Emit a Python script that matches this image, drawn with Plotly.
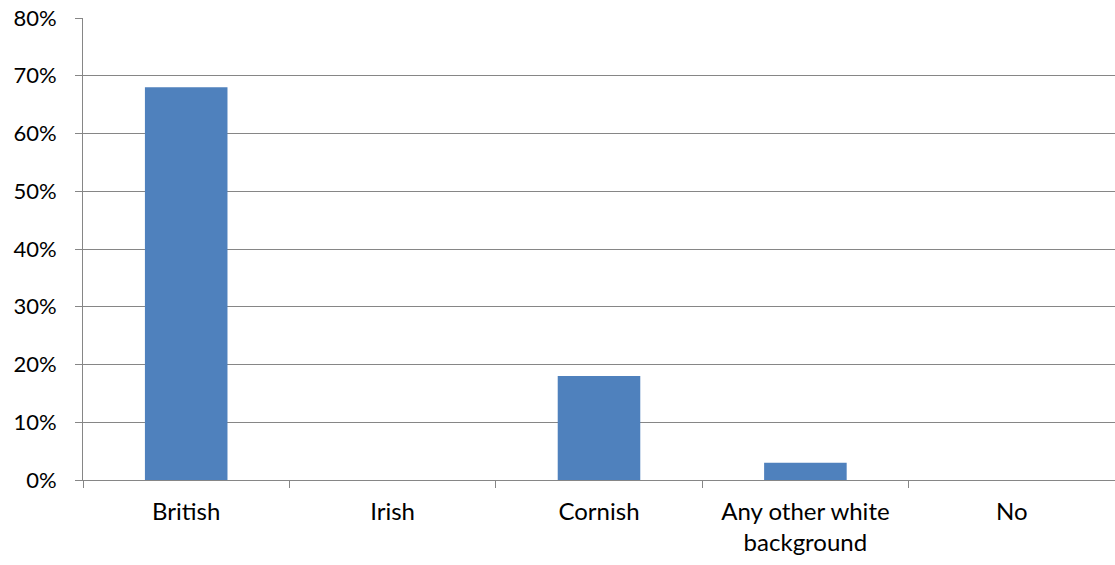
import plotly.graph_objects as go

categories = ["British", "Irish", "Cornish", "Any other white<br>background", "No"]
values = [0.68, 0.0, 0.18, 0.03, 0.0]
y_ticks = [0, 0.1, 0.2, 0.3, 0.4, 0.5, 0.6, 0.7, 0.8]
y_tick_labels = ["0%", "10%", "20%", "30%", "40%", "50%", "60%", "70%", "80%"]

fig = go.Figure(go.Bar(x=categories, y=values, marker=dict(color="#4F81BD", line=dict(width=0)), width=0.4))

fig.update_layout(
    width=1115, height=565,
    margin=dict(l=83, r=0, t=18, b=85),
    paper_bgcolor="white", plot_bgcolor="white",
    font=dict(family="Lato, Calibri, sans-serif", size=22, color="#000000"),
    showlegend=False,
    bargap=0.6,
)
fig.update_xaxes(
    type="category", tickson="boundaries", ticks="outside", ticklen=7, tickcolor="#868686", tickwidth=1,
    showline=True, linecolor="#868686", linewidth=1, showgrid=False, range=[-0.5, 4.5],
    tickfont=dict(size=24), ticklabelstandoff=10,
)
fig.update_yaxes(
    range=[0, 0.8], tickvals=y_ticks, ticktext=y_tick_labels, ticks="outside", ticklen=7,
    tickcolor="#868686", showline=True, linecolor="#868686", linewidth=1,
    showgrid=True, gridcolor="#868686", gridwidth=1, zeroline=False, tickfont=dict(size=22),
    ticklabelstandoff=14,
)

fig.write_html("out.html", config={"displayModeBar": False},
               post_script="document.body.style.margin='0';document.body.style.overflow='hidden';")
